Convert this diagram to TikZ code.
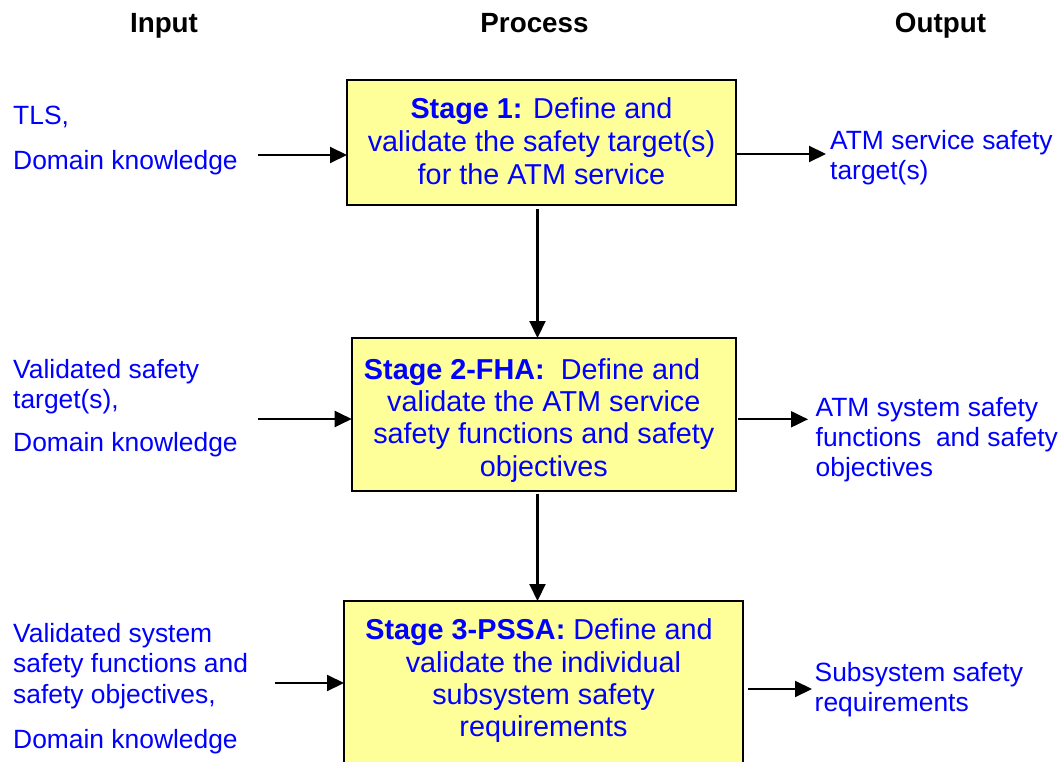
\documentclass[tikz,border=0pt]{standalone}
\usepackage{fontspec}
\setmainfont{Liberation Sans}
\usetikzlibrary{arrows.meta}
\definecolor{stagefill}{RGB}{255,255,153}
\definecolor{textblue}{RGB}{0,0,255}

\begin{document}
\begin{tikzpicture}[x=1pt,y=-1pt,
  header/.style={font=\bfseries\fontsize{27.8}{33}\selectfont, text=black, inner sep=0pt, anchor=base},
  sidetext/.style={font=\fontsize{26.4}{30.3}\selectfont, text=textblue, align=left, inner sep=0pt, anchor=base west},
  stagebox/.style={draw=black, line width=2.4pt, fill=stagefill, outer sep=0pt, inner sep=0pt, anchor=north west},
  stagetext/.style={font=\fontsize{28.8}{32.3}\selectfont, text=textblue, align=center, inner sep=0pt, anchor=base},
  flow/.style={line width=2.1pt, -{Triangle[length=17pt,width=16pt]}}
]
% page frame
\fill[white] (0,0) rectangle (1062,762);
\clip (0,0) rectangle (1062,762);

% column headings
\node[header] (hin)  at (164,33)   {Input};
\node[header] (hpro) at (534.5,33) {Process};
\node[header] (hout) at (940.5,33) {Output};

% stage boxes
\node[stagebox, minimum width=389pt,   minimum height=125pt]   (s1) at (347,80) {};
\node[stagebox, minimum width=384.3pt, minimum height=152.7pt] (s2) at (351.7,338) {};
\node[stagebox, minimum width=399pt,   minimum height=200pt]   (s3) at (344,601) {};

% stage descriptions (anchored on the baseline of their last line)
\node[stagetext, font=\fontsize{28.8}{33.3}\selectfont] (t1) at (541.5,185)
  {\textbf{Stage 1:} Define and\\validate the safety target(s)\\for the ATM service};
\node[stagetext] (t2) at (543.8,476)
  {\textbf{Stage 2-FHA:}\ \ Define and\hspace*{23.5pt}\\validate the ATM service\\safety functions and safety\\objectives};
\node[stagetext] (t3) at (543.5,736.7)
  {\textbf{Stage 3-PSSA:} Define and\hspace*{9pt}\\validate the individual\\subsystem safety\\requirements};

% inputs
\node[sidetext] (in1) at (13,170)   {TLS,\\[14.7pt]Domain knowledge};
\node[sidetext] (in2) at (13,451.7) {Validated safety\\target(s),\\[12.7pt]Domain knowledge};
\node[sidetext] (in3) at (13,748)   {Validated system\\safety functions and\\safety objectives,\\[14.5pt]Domain knowledge};

% outputs
\node[sidetext] (out1) at (830,180)     {ATM service safety\\target(s)};
\node[sidetext] (out2) at (815.5,476.7) {ATM system safety\\functions\ \ and safety\\objectives};
\node[sidetext] (out3) at (814.5,711.7) {Subsystem safety\\requirements};

% connector ends
\coordinate (i1) at (258,155);
\coordinate (o1) at (826,154);
\coordinate (i2) at (258,419);
\coordinate (o2) at (808,419.3);
\coordinate (i3) at (275,683);
\coordinate (o3) at (812,689);
\coordinate (v)  at (537.5,0);

% input and output arrows
\draw[flow] (i1) -- (i1 -| s1.west);
\draw[flow] (s1.east |- o1) -- (o1);
\draw[flow] (i2) -- (i2 -| s2.west);
\draw[flow, shorten <=2pt] (s2.east |- o2) -- (o2);
\draw[flow] (i3) -- (i3 -| s3.west);
\draw[flow, shorten <=5pt] (s3.east |- o3) -- (o3);

% stage-to-stage arrows
\draw[flow, shorten <=4pt] (s1.south -| v) -- (s2.north -| v);
\draw[flow, shorten <=3pt] (s2.south -| v) -- (s3.north -| v);
\end{tikzpicture}
\end{document}
